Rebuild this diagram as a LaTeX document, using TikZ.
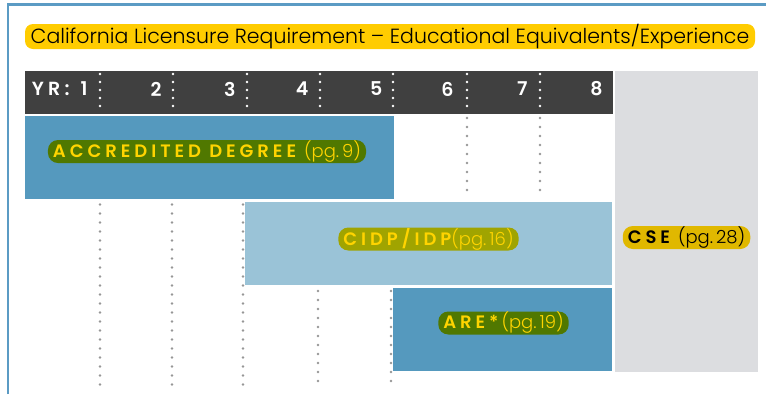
\documentclass[tikz,border=0pt]{standalone}
\usepackage{fontspec}
\setmainfont{Poppins}
\newfontfamily\spacedfont[LetterSpace=22]{Poppins SemiBold}
\newfontfamily\lightfont[Ligatures=TeX]{Poppins Light}
\definecolor{framecol}{RGB}{91,155,196}
\definecolor{bannercol}{RGB}{255,204,0}
\definecolor{headcol}{RGB}{64,64,64}
\definecolor{midblue}{RGB}{85,153,190}
\definecolor{lightblue}{RGB}{154,195,215}
\definecolor{csecol}{RGB}{220,221,224}
\definecolor{greenpill}{RGB}{80,120,0}
\definecolor{olivepill}{RGB}{160,164,0}
\definecolor{csepill}{RGB}{224,184,0}
\definecolor{labelyellow}{RGB}{255,212,0}
\definecolor{dotcol}{RGB}{150,150,150}
\tikzset{
  pill/.style={rounded corners=10pt, inner xsep=5pt, inner ysep=0pt, minimum height=23pt, text=labelyellow},
  yrnum/.style={anchor=east, text=white, font=\spacedfont\fontsize{19}{19}\selectfont},
  headdots/.style={white, line width=2.8pt, line cap=round, dash pattern=on 0pt off 8pt},
  griddots/.style={dotcol, line width=2.8pt, line cap=round, dash pattern=on 0pt off 9pt}
}
\newcommand\capslabel[1]{{\spacedfont\fontsize{18}{18}\selectfont #1}}
\newcommand\pagelabel[1]{{\lightfont\fontsize{18}{18}\selectfont #1}}
\begin{document}
\begin{tikzpicture}[x=1pt,y=-1pt]
\useasboundingbox (0,0) rectangle (766,394);
% frame
\draw[framecol, line width=2.5pt] (8,394) -- (8,4.5) -- (766,4.5);
% title
\node[fill=bannercol, rounded corners=8pt, minimum width=730pt, minimum height=25pt, inner sep=0pt,
  font=\lightfont\fontsize{20.5}{20.5}\selectfont] (title) at (390,36.5) {California Licensure Requirement -- Educational Equivalents/Experience};
% year bar and CSE column
\fill[headcol] (25,71) rectangle (612.5,114);
\fill[csecol] (615,71) rectangle (758,371.5);
% programme bars
\fill[midblue] (25,116) rectangle (394,198.5);
\fill[lightblue] (245,202) rectangle (612,284.5);
\fill[midblue] (393,288) rectangle (612,370.5);
% year labels
\node[yrnum] (yr1) at (91,89) {YR:\hspace{11pt}1};
\foreach \n/\x in {2/165,3/239,4/312,5/386,6/457,7/531,8/606}
  \node[yrnum] (yr\n) at (\x,89) {\n};
% separators
\foreach \x in {100,173,247,320,393,467,540}
  \draw[headdots] (\x,74) -- (\x,113);
\foreach \x in {467,540}
  \draw[griddots] (\x,118) -- (\x,196);
\foreach \x in {100,172,243}
  \draw[griddots] (\x,204.5) -- (\x,385);
\foreach \x in {318,391}
  \draw[griddots] (\x,291) -- (\x,385);
% labels
\node[pill, fill=greenpill] (degree) at (207,151.5)
  {\capslabel{ACCREDITED DEGREE}\hspace{8pt}\pagelabel{(pg.\,9)}};
\node[pill, fill=olivepill] (cidp) at (428.5,239)
  {\capslabel{CIDP/IDP}\pagelabel{(pg.\,16)}};
\node[pill, fill=greenpill] (are) at (503.5,323)
  {\capslabel{ARE*}\hspace{3pt}\pagelabel{(pg.\,19)}};
\node[pill, fill=csepill, text=black] (cse) at (686.5,237.5)
  {\capslabel{CSE}\hspace{8pt}\pagelabel{(pg.\,28)}};
\end{tikzpicture}
\end{document}
